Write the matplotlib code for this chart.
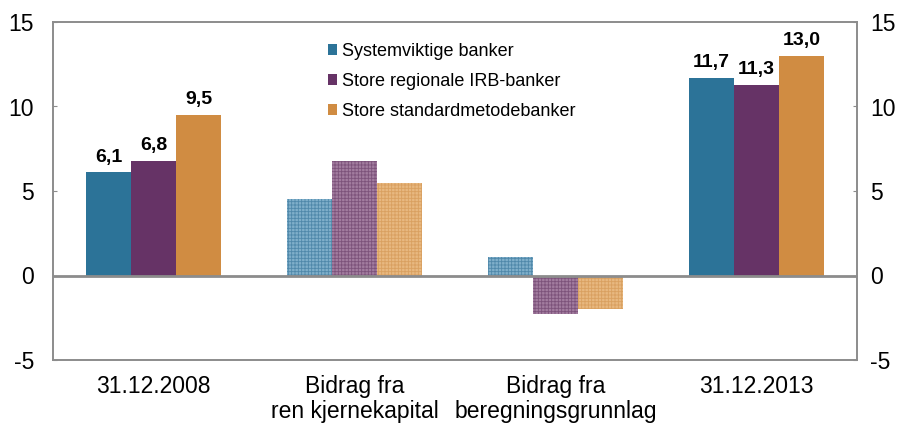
import matplotlib
matplotlib.use("Agg")
import matplotlib.pyplot as plt
from matplotlib.patches import Patch
import numpy as np

plt.rcParams['font.family'] = ['Liberation Sans', 'DejaVu Sans']
plt.rcParams['hatch.linewidth'] = 0.6

categories = ["31.12.2008", "Bidrag fra\nren kjernekapital", "Bidrag fra\nberegningsgrunnlag", "31.12.2013"]
series_names = ["Systemviktige banker", "Store regionale IRB-banker", "Store standardmetodebanker"]
systemviktige = [6.1, 4.5, 1.1, 11.7]
regionale_irb = [6.8, 6.8, -2.3, 11.3]
standardmetode = [9.5, 5.5, -2.0, 13.0]
value_labels = {0: ["6,1", "6,8", "9,5"], 3: ["11,7", "11,3", "13,0"]}
yticks = [-5, 0, 5, 10, 15]

colors = ["#2C7398", "#663366", "#D08C42"]
light = ["#7FAFCA", "#A27C9F", "#E8B880"]
hatch_col = ["#4F88AA", "#7C527A", "#D9A060"]
hatched_groups = [1, 2]

fig = plt.figure(figsize=(9.04, 4.26), dpi=100)
ax = fig.add_axes([53/904, 66/426, 804/904, 338/426])

x = np.arange(len(categories))
w = 0.224
data = [systemviktige, regionale_irb, standardmetode]
for si, vals in enumerate(data):
    pos = x + (si - 1) * w
    for gi in range(len(categories)):
        if gi in hatched_groups:
            ax.bar(pos[gi], vals[gi], w, color=light[si], edgecolor=hatch_col[si],
                   hatch='+++++', linewidth=0, zorder=2)
        else:
            ax.bar(pos[gi], vals[gi], w, color=colors[si], linewidth=0, zorder=2)
        if gi in value_labels:
            ax.text(pos[gi], vals[gi] + 0.4, value_labels[gi][si], ha='center', va='bottom',
                    fontsize=14, fontweight='bold', color='black')

ax.axhline(0, color='#8C8C8C', linewidth=2, zorder=3)
ax.set_xlim(-0.5, 3.5)
ax.set_ylim(-5, 15)
ax.set_yticks(yticks)
ax.set_yticklabels([str(t) for t in yticks])
ax.set_xticks(x)
ax.set_xticklabels(categories, fontsize=16.5, linespacing=1.1)
ax.tick_params(axis='x', length=0, pad=11)
ax.tick_params(axis='y', direction='in', length=3, labelsize=16.5, pad=13.5, color='#8C8C8C')
for sp in ax.spines.values():
    sp.set_color('#8C8C8C')
    sp.set_linewidth(1.2)

ax2 = ax.twinx()
ax2.set_ylim(-5, 15)
ax2.set_yticks(yticks)
ax2.set_yticklabels([str(t) for t in yticks])
ax2.tick_params(axis='y', direction='in', length=3, labelsize=16.5, pad=9.5, color='#8C8C8C')
for sp in ax2.spines.values():
    sp.set_color('#8C8C8C')
    sp.set_linewidth(1.2)

handles = [Patch(facecolor=c, edgecolor='none') for c in colors]
leg = ax.legend(handles, series_names, loc='upper left', bbox_to_anchor=(328/904, 1 - 43/426),
                bbox_transform=fig.transFigure, frameon=False, fontsize=13,
                handlelength=0.5, handleheight=0.5, handletextpad=0.25, labelspacing=0.72,
                borderaxespad=0, borderpad=0)

fig.savefig("out.png", dpi=100)
